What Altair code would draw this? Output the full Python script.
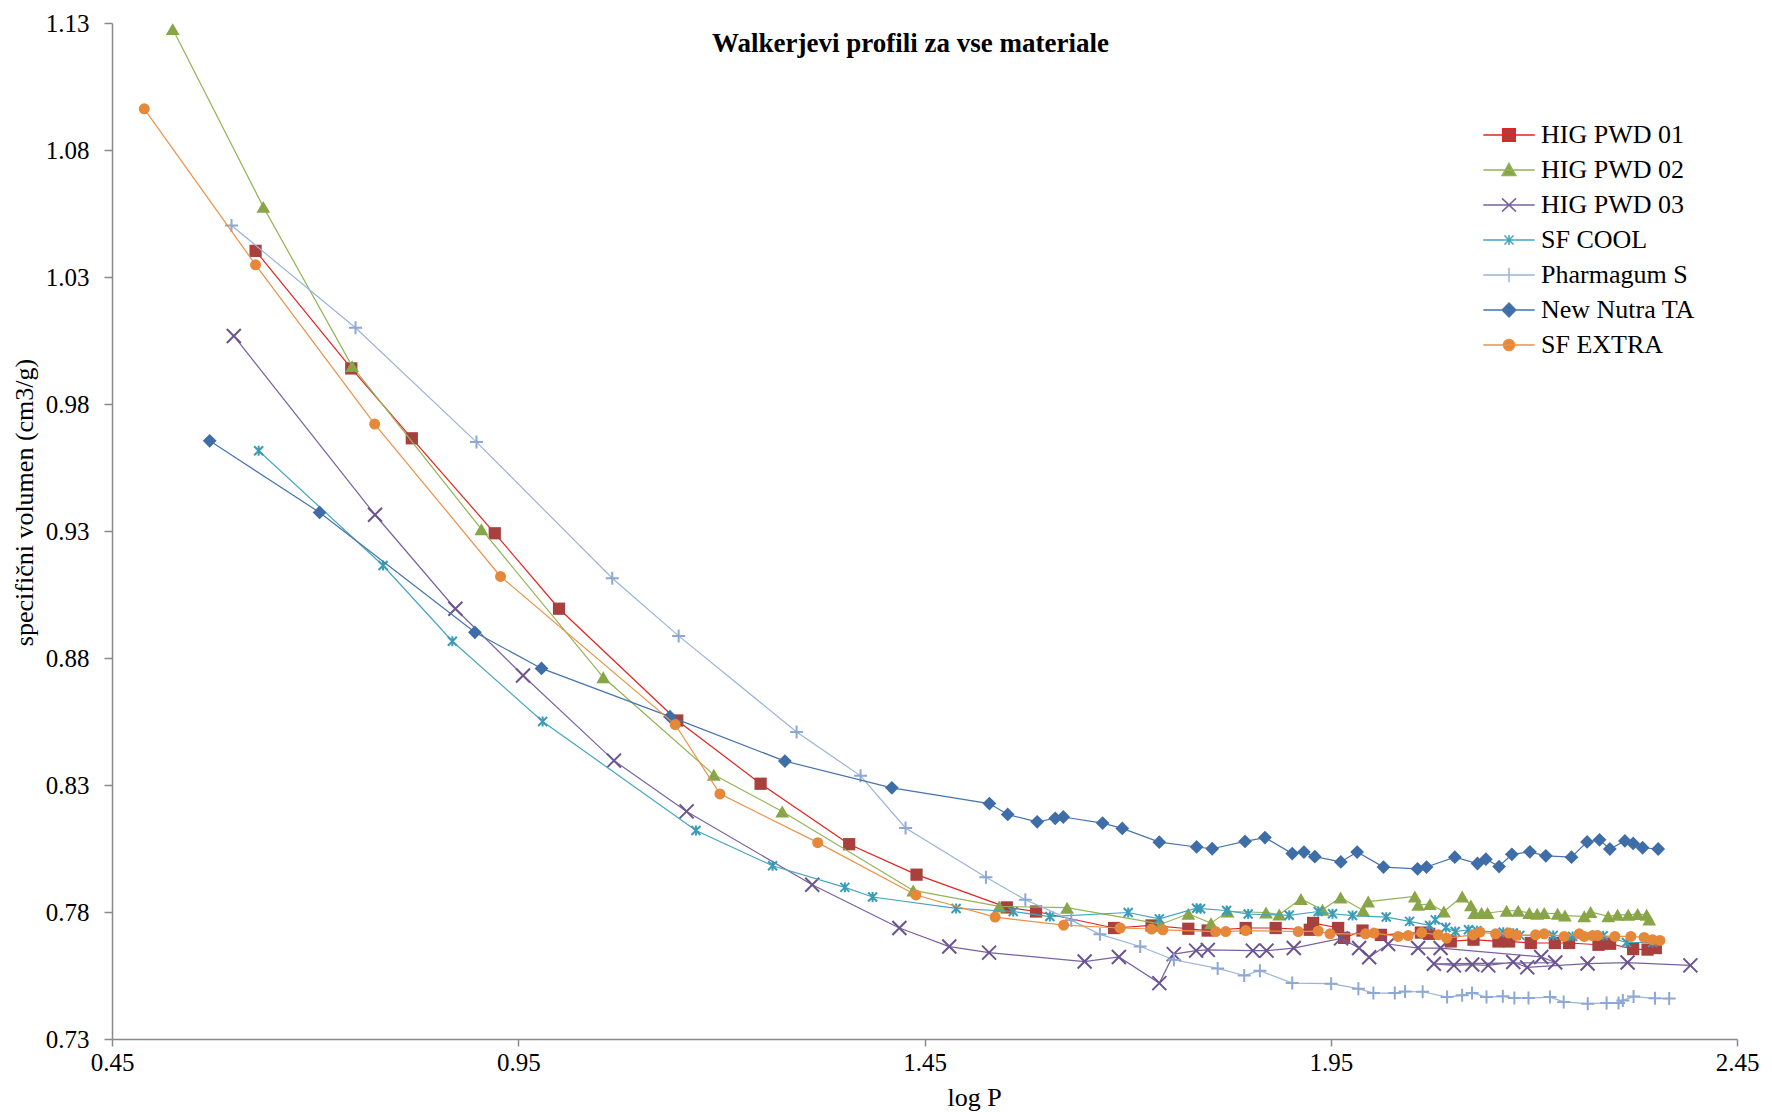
import altair as alt
import pandas as pd

series_names = ["HIG PWD 01", "HIG PWD 02", "HIG PWD 03", "SF COOL",
                "Pharmagum S", "New Nutra TA", "SF EXTRA"]

hig01_x = [0.6267, 0.7445, 0.8190, 0.9211, 1.0002, 1.1457, 1.2483, 1.3573, 1.4402, 1.5513,
           1.5873, 1.6834, 1.7294, 1.7747, 1.7985, 1.8453, 1.8822, 1.9242, 1.9283, 1.9591,
           1.9665, 1.9891, 2.0117, 2.0609, 2.0712, 2.0977, 2.1257, 2.1564, 2.1695, 2.1962,
           2.2258, 2.2434, 2.2795, 2.2938, 2.3222, 2.3399, 2.3501]
hig01_y = [1.0403, 0.9940, 0.9665, 0.9291, 0.8994, 0.8554, 0.8305, 0.8067, 0.7947, 0.7818,
           0.7802, 0.7737, 0.7747, 0.7734, 0.7727, 0.7737, 0.7737, 0.7730, 0.7757, 0.7737,
           0.7698, 0.7727, 0.7710, 0.7719, 0.7714, 0.7684, 0.7691, 0.7684, 0.7684, 0.7678,
           0.7678, 0.7678, 0.7671, 0.7675, 0.7654, 0.7652, 0.7658]

hig02_x = [0.5247, 0.6362, 0.7455, 0.9046, 1.0546, 1.1907, 1.2749, 1.4361, 1.5419, 1.6255,
           1.7411, 1.7747, 1.8026, 1.8231, 1.8703, 1.8866, 1.9133, 1.9399, 1.9621, 1.9899,
           1.9961, 2.0535, 2.0576, 2.0720, 2.0892, 2.1118, 2.1225, 2.1266, 2.1356, 2.1430,
           2.1664, 2.1807, 2.1943, 2.2041, 2.2127, 2.2292, 2.2382, 2.2620, 2.2698, 2.2915,
           2.3030, 2.3161, 2.3277, 2.3388, 2.3420]
hig02_y = [1.1276, 1.0576, 0.9949, 0.9307, 0.8724, 0.8340, 0.8196, 0.7885, 0.7822, 0.7817,
           0.7752, 0.7793, 0.7756, 0.7802, 0.7798, 0.7790, 0.7851, 0.7809, 0.7857, 0.7806,
           0.7841, 0.7861, 0.7828, 0.7831, 0.7802, 0.7861, 0.7826, 0.7796, 0.7796, 0.7796,
           0.7805, 0.7805, 0.7796, 0.7793, 0.7796, 0.7793, 0.7786, 0.7783, 0.7800, 0.7783,
           0.7789, 0.7789, 0.7792, 0.7789, 0.7770]

hig03_x = [0.5999, 0.7737, 0.8726, 0.9559, 1.0678, 1.1572, 1.3118, 1.4191, 1.4805, 1.5295,
           1.6471, 1.6892, 1.7390, 1.7568, 1.7843, 1.7987, 1.8541, 1.8709, 1.9045, 1.9626,
           1.9849, 1.9973, 2.0207, 2.0576, 2.0852, 2.2090, 2.2263, 2.0769, 2.1016, 2.1241,
           2.1438, 2.1746, 2.1918, 2.2661, 2.3153, 2.3926]
hig03_y = [1.0068, 0.9364, 0.8994, 0.8731, 0.8396, 0.8196, 0.7907, 0.7737, 0.7664, 0.7640,
           0.7605, 0.7623, 0.7520, 0.7634, 0.7648, 0.7651, 0.7648, 0.7648, 0.7658, 0.7696,
           0.7658, 0.7622, 0.7674, 0.7658, 0.7658, 0.7623, 0.7601, 0.7596, 0.7590, 0.7593,
           0.7590, 0.7603, 0.7582, 0.7597, 0.7601, 0.7590]

sfcool_x = [0.6305, 0.7836, 0.8689, 0.9800, 1.1687, 1.2630, 1.3520, 1.3861, 1.4889, 1.5592,
            1.6043, 1.7007, 1.7390, 1.7849, 1.7898, 1.8218, 1.8484, 1.8989, 1.9346, 1.9522,
            1.9768, 2.0183, 2.0470, 2.0716, 2.0786, 2.0917, 2.1032, 2.1195, 2.1299, 2.1623,
            2.1746, 2.1828, 2.2238, 2.2477, 2.2853, 2.3140, 2.3461]
sfcool_y = [0.9616, 0.9164, 0.8866, 0.8550, 0.8121, 0.7982, 0.7897, 0.7859, 0.7814, 0.7802,
            0.7782, 0.7798, 0.7773, 0.7815, 0.7813, 0.7806, 0.7792, 0.7787, 0.7802, 0.7793,
            0.7786, 0.7780, 0.7763, 0.7747, 0.7769, 0.7739, 0.7723, 0.7730, 0.7726, 0.7720,
            0.7717, 0.7708, 0.7708, 0.7704, 0.7707, 0.7680, 0.7680]

pharm_x = [0.5971, 0.7497, 0.8986, 1.0657, 1.1474, 1.2926, 1.3713, 1.4267, 1.5256, 1.5741,
           1.6306, 1.6659, 1.7155, 1.7569, 1.8108, 1.8435, 1.8628, 1.9026, 1.9505, 1.9840,
           2.0025, 2.0288, 2.0415, 2.0631, 2.0932, 2.1117, 2.1239, 2.1417, 2.1618, 2.1760,
           2.1934, 2.2198, 2.2367, 2.2663, 2.2895, 2.3042, 2.3095, 2.3227, 2.3491, 2.3665]
pharm_y = [1.0503, 1.0100, 0.9650, 0.9114, 0.8887, 0.8509, 0.8336, 0.8131, 0.7937, 0.7848,
           0.7768, 0.7712, 0.7664, 0.7612, 0.7578, 0.7550, 0.7569, 0.7520, 0.7518, 0.7498,
           0.7481, 0.7481, 0.7487, 0.7486, 0.7465, 0.7472, 0.7481, 0.7465, 0.7468, 0.7461,
           0.7461, 0.7465, 0.7446, 0.7439, 0.7442, 0.7442, 0.7452, 0.7467, 0.7460, 0.7459]

nutra_x = [0.5702, 0.7055, 0.8966, 0.9786, 1.1367, 1.2782, 1.4098, 1.5299, 1.5524, 1.5887,
           1.6109, 1.6208, 1.6692, 1.6934, 1.7390, 1.7849, 1.8041, 1.8445, 1.8690, 1.9026,
           1.9170, 1.9304, 1.9624, 1.9825, 2.0149, 2.0568, 2.0679, 2.1027, 2.1306, 2.1409,
           2.1572, 2.1729, 2.1951, 2.2147, 2.2463, 2.2655, 2.2808, 2.2935, 2.3120, 2.3222,
           2.3338, 2.3530]
nutra_y = [0.9655, 0.9373, 0.8901, 0.8759, 0.8569, 0.8394, 0.8289, 0.8227, 0.8184, 0.8155,
           0.8169, 0.8174, 0.8150, 0.8129, 0.8075, 0.8056, 0.8049, 0.8078, 0.8093, 0.8030,
           0.8036, 0.8018, 0.7997, 0.8036, 0.7977, 0.7970, 0.7977, 0.8016, 0.7991, 0.8008,
           0.7979, 0.8027, 0.8037, 0.8021, 0.8016, 0.8076, 0.8084, 0.8048, 0.8080, 0.8070,
           0.8053, 0.8048]

sfextra_x = [0.4897, 0.6267, 0.7733, 0.9282, 1.1432, 1.1982, 1.3186, 1.4394, 1.5369, 1.6213,
             1.6908, 1.7294, 1.7433, 1.8084, 1.8207, 1.8453, 1.9100, 1.9346, 1.9491, 1.9928,
             2.0032, 2.0330, 2.0453, 2.0618, 2.0823, 2.0926, 2.1254, 2.1336, 2.1529, 2.1693,
             2.1787, 2.2021, 2.2127, 2.2373, 2.2558, 2.2620, 2.2722, 2.2784, 2.2997, 2.3194,
             2.3357, 2.3461, 2.3551]
sfextra_y = [1.0962, 1.0348, 0.9721, 0.9121, 0.8538, 0.8265, 0.8073, 0.7867, 0.7780, 0.7748,
             0.7737, 0.7733, 0.7730, 0.7723, 0.7723, 0.7727, 0.7723, 0.7725, 0.7714, 0.7714,
             0.7717, 0.7704, 0.7707, 0.7719, 0.7710, 0.7697, 0.7710, 0.7721, 0.7714, 0.7717,
             0.7708, 0.7710, 0.7714, 0.7704, 0.7714, 0.7704, 0.7707, 0.7707, 0.7704, 0.7704,
             0.7700, 0.7691, 0.7688]

x_ticks = [0.45, 0.95, 1.45, 1.95, 2.45]
y_ticks = [0.73, 0.78, 0.83, 0.88, 0.93, 0.98, 1.03, 1.08, 1.13]

line_colors = ["#E3231E", "#93B356", "#7A62A0", "#45A6C0", "#9AB4DA", "#4674AC", "#EC9246"]
marker_colors = ["#A8403E", "#88A548", "#6B5492", "#3A9CB5", "#8CA8D3", "#3F6DA7", "#E5883A"]

# chart marker styles (shape, filled, size, strokeWidth)
X_PATH = "M-1,-1L1,1M-1,1L1,-1"
AST_PATH = "M-1,-1L1,1M-1,1L1,-1M0,-1.1L0,1.1"
PLUS_PATH = "M-1,0L1,0M0,-1L0,1"
marker_styles = [
    ("square", True, 150, 1),
    ("triangle-up", True, 190, 1),
    (X_PATH, False, 196, 2),
    (AST_PATH, False, 81, 2),
    (PLUS_PATH, False, 169, 2),
    ("diamond", True, 190, 1),
    ("circle", True, 121, 1),
]

# legend symbols: line through the marker
legend_paths = [
    "M-3.67,0H3.67M-0.89,-0.89H0.89V0.89H-0.89Z",
    "M-3.67,0H3.67M0,-0.95L0.98,0.8H-0.98Z",
    "M-3.67,0H3.67M-1,-0.95L1,0.95M-1,0.95L1,-0.95",
    "M-3.67,0H3.67M-0.65,-0.65L0.65,0.65M-0.65,0.65L0.65,-0.65M0,-0.7V0.7",
    "M-3.67,0H3.67M0,-1.05V1.05M-0.95,0H0.95",
    "M-3.67,0H3.67M-0.98,0L0,-0.98L0.98,0L0,0.98Z",
    "M-3.67,0H3.67M-0.8,0A0.8,0.8,0,1,0,0.8,0A0.8,0.8,0,1,0,-0.8,0Z",
]

all_series = [(hig01_x, hig01_y), (hig02_x, hig02_y), (hig03_x, hig03_y),
              (sfcool_x, sfcool_y), (pharm_x, pharm_y), (nutra_x, nutra_y),
              (sfextra_x, sfextra_y)]

rows = []
for name, (xs, ys) in zip(series_names, all_series):
    for i, (xv, yv) in enumerate(zip(xs, ys)):
        rows.append({"series": name, "logP": xv, "v": yv, "idx": i})
df = pd.DataFrame(rows)

FONT = "Liberation Serif"
AXIS_GRAY = "#898989"

x_enc = alt.X("logP:Q", scale=alt.Scale(domain=[0.45, 2.45], nice=False, zero=False),
              axis=alt.Axis(values=x_ticks, format=".2f", title="log P", grid=False,
                            labelFlush=False, labelOverlap=False,
                            titleX=862, titleY=58, titleBaseline="middle", titleAlign="center",
                            tickSize=7, labelPadding=4))
y_enc = alt.Y("v:Q", scale=alt.Scale(domain=[0.73, 1.13], nice=False, zero=False),
              axis=alt.Axis(values=y_ticks, format=".2f", title="specifični volumen (cm3/g)",
                            grid=False, labelOverlap=False, labelFlush=False,
                            titleX=-88, titleY=479, titleBaseline="middle", titleAngle=-90,
                            tickSize=8, labelPadding=15))

base = alt.Chart(df)
layers = []
for k, name in enumerate(series_names):
    shape, filled, size, sw = marker_styles[k]
    sub = base.transform_filter(alt.datum.series == name)
    layers.append(sub.mark_line(color=line_colors[k], strokeWidth=1.2).encode(
        x=x_enc, y=y_enc, order=alt.Order("idx:Q")))
    if filled:
        pm = sub.mark_point(shape=shape, filled=True, size=size, color=marker_colors[k],
                            opacity=1, strokeWidth=sw)
    else:
        pm = sub.mark_point(shape=shape, filled=False, size=size, color=marker_colors[k],
                            opacity=1, strokeWidth=sw)
    layers.append(pm.encode(x=x_enc, y=y_enc))

leg = alt.Legend(title=None, orient="none", legendX=1384, legendY=99, direction="vertical",
                 labelFont=FONT, labelFontSize=26, labelColor="black", labelLimit=400,
                 symbolSize=196, symbolStrokeWidth=1.5, symbolOpacity=1,
                 labelOffset=19, rowPadding=9, padding=0)

legend_layer = base.mark_point(filled=True, opacity=0).encode(
    x=x_enc, y=y_enc,
    fill=alt.Fill("series:N", scale=alt.Scale(domain=series_names, range=marker_colors), legend=leg),
    stroke=alt.Stroke("series:N", scale=alt.Scale(domain=series_names, range=line_colors), legend=leg),
    shape=alt.Shape("series:N", scale=alt.Scale(domain=series_names, range=legend_paths), legend=leg),
)
layers.append(legend_layer)

chart = alt.layer(*layers).properties(
    width=1625, height=1016,
    autosize=alt.AutoSizeParams(type="none"),
    padding={"left": 112, "top": 23, "right": 35, "bottom": 73},
    title=alt.TitleParams("Walkerjevi profili za vse materiale", font=FONT, fontSize=27,
                          fontWeight="bold", color="black", anchor="middle", frame="group",
                          offset=-68, baseline="alphabetic", dx=-14),
    background="white",
).configure_view(stroke=None).configure_axis(
    labelFont=FONT, labelFontSize=25, labelColor="black",
    titleFont=FONT, titleFontSize=26, titleColor="black", titleFontWeight="normal",
    domainColor=AXIS_GRAY, domainWidth=1.5, tickColor=AXIS_GRAY, tickWidth=1.5,
)

chart.save("out.html", embed_options={"renderer": "svg", "actions": False})
